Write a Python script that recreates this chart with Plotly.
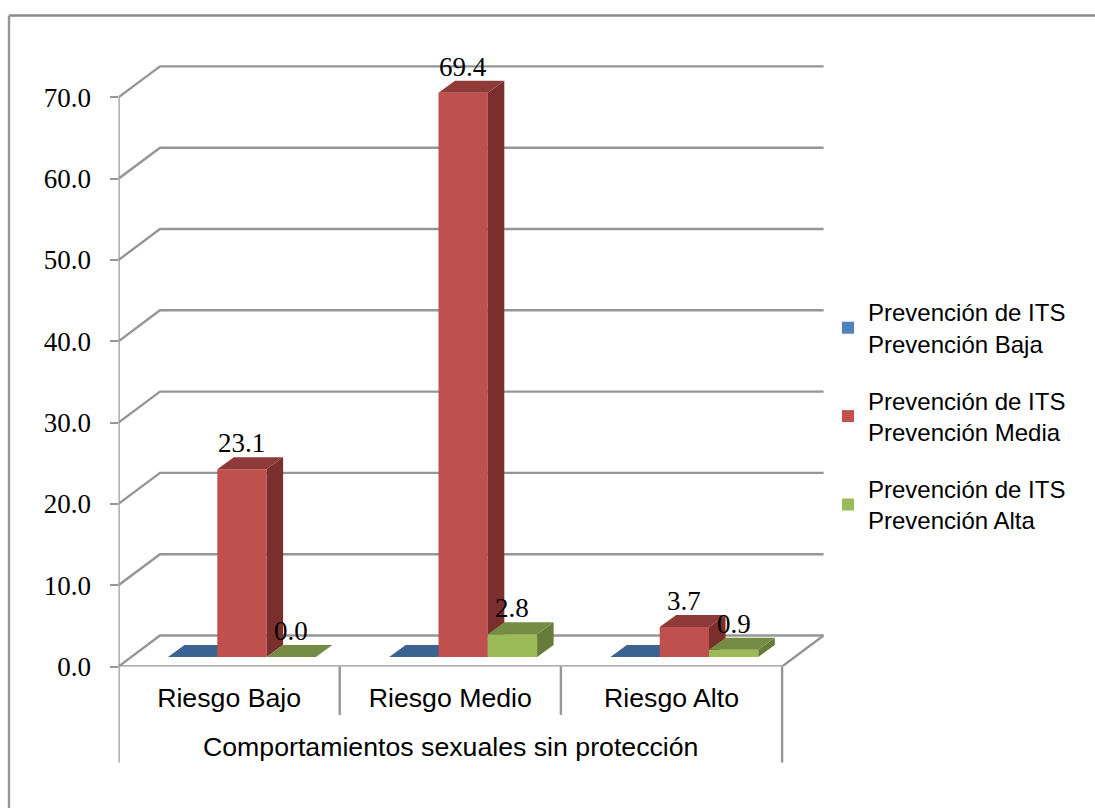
import plotly.graph_objects as go

categories = ["Riesgo Bajo", "Riesgo Medio", "Riesgo Alto"]
series_names = ["Prevención de ITS<br>Prevención Baja",
                "Prevención de ITS<br>Prevención Media",
                "Prevención de ITS<br>Prevención Alta"]
baja = [0.0, 0.0, 0.0]
media = [23.1, 69.4, 3.7]
alta = [0.0, 2.8, 0.9]
show_labels = [False, True, True]
y_ticks = [0, 10, 20, 30, 40, 50, 60, 70]
axis_title = "Comportamientos sexuales sin protección"

front_colors = ["#4F81BD", "#C0504D", "#9BBB59"]
top_colors = ["#3A6391", "#8E3A38", "#748C43"]
side_colors = ["#2F5078", "#7A2F2D", "#667C3A"]
GRID = "#969696"

W, H = 1095, 808
X0, Y0 = 118.5, 666.5      # pixel position of origin
CAT_PX = 221.2
UNIT_PX = 8.13
sx = 1 / CAT_PX
sy = 1 / UNIT_PX
WALL_DX, WALL_DY = 41.5 * sx, 31 * sy
BAR_W = 49.3 * sx
BAR_START = 49.5 * sx
BASE = 9.5 * sy
DEPTH_DX, DEPTH_DY = 16.5 * sx, 12 * sy

fig = go.Figure()


def line(xs, ys):
    fig.add_trace(go.Scatter(x=xs, y=ys, mode="lines", showlegend=False, hoverinfo="skip",
                             line=dict(color=GRID, width=2.4), cliponaxis=False, zorder=-1))


for t in y_ticks:
    line([0, WALL_DX, 3 + WALL_DX], [t, t + WALL_DY, t + WALL_DY])
line([3, 3 + WALL_DX], [0, WALL_DY])
line([0, 0], [0, y_ticks[-1]])
line([0, 3], [0, 0])

for s, vals in enumerate([baja, media, alta]):
    z = s + 1
    xs = [i + BAR_START + s * BAR_W for i in range(3)]
    fig.add_trace(go.Bar(x=[x + BAR_W / 2 for x in xs], y=vals, base=[BASE] * 3, width=BAR_W,
                         marker=dict(color=front_colors[s], line=dict(width=0)),
                         name=series_names[s], legendgroup=str(s), zorder=z, hoverinfo="skip"))
    for x, v in zip(xs, vals):
        t = BASE + v
        x1 = x + BAR_W
        if v > 0:
            fig.add_trace(go.Scatter(
                x=[x1, x1 + DEPTH_DX, x1 + DEPTH_DX, x1, x1],
                y=[BASE, BASE + DEPTH_DY, t + DEPTH_DY, t, BASE],
                mode="lines", fill="toself", fillcolor=side_colors[s], line=dict(width=0),
                showlegend=False, hoverinfo="skip", zorder=z))
        fig.add_trace(go.Scatter(
            x=[x, x1, x1 + DEPTH_DX, x + DEPTH_DX, x],
            y=[t, t, t + DEPTH_DY, t + DEPTH_DY, t],
            mode="lines", fill="toself", fillcolor=top_colors[s], line=dict(width=0),
            showlegend=False, hoverinfo="skip", zorder=z))
        if show_labels[s]:
            fig.add_annotation(x=x + BAR_W / 2, y=t, text=f"{v:.1f}", showarrow=False,
                               yanchor="bottom", xanchor="center", yshift=9,
                               font=dict(family="Liberation Serif", size=27, color="black"))

# category dividers below the axis
for i in range(4):
    bottom = (H - 762.5) / H if i in (0, 3) else (H - 715) / H
    fig.add_shape(type="line", xref="x", yref="paper", x0=i, x1=i, y0=(H - Y0) / H, y1=bottom,
                  line=dict(color=GRID, width=2.4))

# outer frame: top and left only
fig.add_shape(type="line", xref="paper", yref="paper", x0=9 / W, x1=1, y0=1 - 15.5 / H, y1=1 - 15.5 / H,
              line=dict(color="#8C8C8C", width=2.4))
fig.add_shape(type="line", xref="paper", yref="paper", x0=9 / W, x1=9 / W, y0=0, y1=1 - 15.5 / H,
              line=dict(color="#969696", width=2.4))

fig.add_annotation(x=1.5, xref="x", y=1 - 747 / H, yref="paper", text=axis_title, showarrow=False,
                   xanchor="center", yanchor="middle",
                   font=dict(family="Liberation Sans", size=26.7, color="black"))

fig.update_layout(
    width=W, height=H, margin=dict(l=0, r=0, t=0, b=0, pad=0), autosize=False,
    paper_bgcolor="white", plot_bgcolor="white", barmode="overlay",
    legend=dict(x=828 / W, y=1 - 290 / H, xanchor="left", yanchor="top", traceorder="grouped",
                tracegroupgap=23, bgcolor="rgba(0,0,0,0)", itemclick=False,
                font=dict(family="Liberation Sans", size=24, color="black")),
    xaxis=dict(domain=[X0 / W, 1], range=[0, (W - X0) / CAT_PX], tickmode="array", automargin=False,
               tickvals=[0.5, 1.5, 2.5], ticktext=categories, ticks="", showgrid=False, zeroline=False,
               showline=False, ticklabelstandoff=13,
               tickfont=dict(family="Liberation Sans", size=26.7, color="black")),
    yaxis=dict(domain=[(H - Y0) / H, 1], range=[0, Y0 / UNIT_PX], tickmode="array", tickvals=y_ticks,
               automargin=False,
               ticktext=[f"{t:.1f}" for t in y_ticks], ticks="outside", ticklen=8, tickwidth=2,
               tickcolor=GRID, showgrid=False, zeroline=False, showline=False, ticklabelstandoff=13,
               tickfont=dict(family="Liberation Serif", size=27, color="black")),
)
fig.write_html("out.html", config={"displayModeBar": False},
               post_script="document.body.style.margin='0';")
